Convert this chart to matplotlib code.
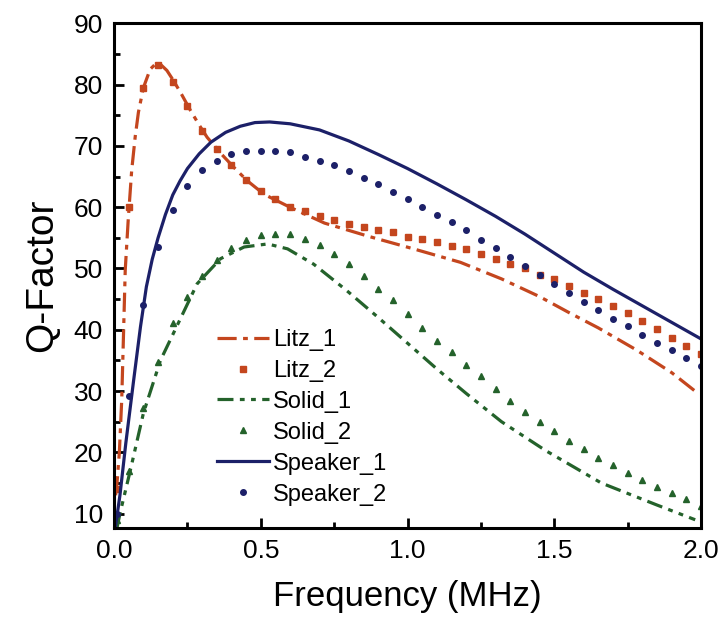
import numpy as np
import matplotlib
matplotlib.use("Agg")
import matplotlib.pyplot as plt
from matplotlib.ticker import MultipleLocator

plt.rcParams['font.family'] = ['Liberation Sans', 'DejaVu Sans']

# ---- data ----
# Litz_1 (dash-dot line)
litz1_f = [0.005, 0.01, 0.018, 0.026, 0.032, 0.038, 0.048, 0.06, 0.072, 0.083,
           0.1, 0.123, 0.14, 0.158, 0.18, 0.203, 0.23, 0.26, 0.29, 0.317,
           0.363, 0.408, 0.454, 0.511, 0.603, 0.717, 0.87, 1.02, 1.18, 1.32,
           1.45, 1.55, 1.65, 1.78, 1.9, 1.99]
litz1_q = [13, 15, 20, 28.5, 39, 49.7, 57.8, 66, 71.5, 75.5,
           79.5, 82.5, 83.3, 83.3, 82.3, 80.6, 78.4, 75.8, 73.4, 71.4,
           68.8, 66.5, 64.3, 62.1, 59.9, 57.4, 55.2, 53.2, 51.0, 48.3,
           45.4, 42.8, 40.3, 36.7, 33.0, 29.6]

# Solid_1 (dash-dot-dot line)
solid1_f = [0.01, 0.02, 0.055, 0.1, 0.158, 0.215, 0.283, 0.363, 0.443, 0.523,
            0.591, 0.68, 0.79, 0.9, 1.0, 1.1, 1.2, 1.32, 1.47, 1.66, 1.85, 1.98]
solid1_q = [7.7, 10, 17, 26.4, 35, 40.7, 47.5, 51.6, 53.5, 54,
            53.2, 50.7, 46.5, 42, 37.8, 33.6, 29.6, 25.0, 20.3, 15.0, 11.4, 9.0]

# Speaker_1 (solid line)
spk1_f = [0.005, 0.02, 0.04, 0.066, 0.09, 0.11, 0.13, 0.15, 0.175, 0.2,
          0.225, 0.25, 0.29, 0.33, 0.38, 0.43, 0.48, 0.53, 0.6, 0.7,
          0.8, 0.9, 1.0, 1.1, 1.2, 1.3, 1.4, 1.5, 1.6, 1.7,
          1.8, 1.9, 2.0]
spk1_q = [8, 13, 21.5, 31.5, 40.5, 47, 51.5, 55, 58.8, 62,
          64.3, 66.3, 68.7, 70.6, 72.2, 73.2, 73.8, 73.9, 73.6, 72.6,
          70.8, 68.6, 66.3, 63.8, 61.2, 58.5, 55.6, 52.5, 49.4, 46.6,
          43.9, 41.2, 38.5]

# measured points, 0.05 MHz steps
pts_f = [0.01] + [round(0.05 * k, 2) for k in range(1, 41)]
litz2_q = [14, 60, 79.5, 83.2, 80.5, 76.5, 72.5, 69.5, 66.8, 64.5,
           62.6, 61.3, 60.1, 59.3, 58.5, 57.9, 57.3, 56.7, 56.3, 55.9,
           55.2, 54.8, 54.3, 53.7, 53.1, 52.4, 51.6, 50.8, 50.0, 49.0,
           48.2, 47.2, 46.0, 45.0, 43.8, 42.8, 41.5, 40.1, 38.7, 37.4, 36.0]
solid2_q = [9, 16.9, 27.2, 34.8, 41.1, 45.4, 48.8, 51.3, 53.3, 54.7,
            55.5, 55.7, 55.6, 54.8, 53.8, 52.4, 50.7, 48.7, 46.7, 44.8,
            42.5, 40.3, 38.2, 36.3, 34.3, 32.4, 30.4, 28.3, 26.6, 25.0,
            23.4, 21.9, 20.5, 19.1, 17.9, 16.6, 15.5, 14.4, 13.4, 12.4, 11.3]
spk2_q = [10, 29.2, 44, 53.5, 59.5, 63.4, 66, 67.6, 68.6, 69.1,
          69.2, 69.1, 69.0, 68.2, 67.5, 66.9, 65.9, 64.8, 63.7, 62.5,
          61.3, 60.1, 58.8, 57.5, 56.2, 54.7, 53.3, 51.8, 50.4, 48.9,
          47.5, 46.0, 44.6, 43.3, 41.8, 40.6, 39.2, 37.9, 36.7, 35.4, 34.1]

orange = '#c4461e'
green = '#24622b'
navy = '#1c2068'

fig = plt.figure(figsize=(7.22, 6.29), dpi=100)
ax = fig.add_axes([0.158, 0.161, 0.813, 0.802])

ax.plot(litz1_f, litz1_q, color=orange, lw=2.3, dashes=(6, 2, 1.5, 2), label='Litz_1')
ax.plot(pts_f, litz2_q, ls='none', marker='s', ms=3.8, color=orange, label='Litz_2')
ax.plot(solid1_f, solid1_q, color=green, lw=2.3, dashes=(5, 2, 1.5, 2, 1.5, 2), label='Solid_1')
ax.plot(pts_f, solid2_q, ls='none', marker='^', ms=4.5, color=green, label='Solid_2')
ax.plot(spk1_f, spk1_q, color=navy, lw=2.3, label='Speaker_1')
ax.plot(pts_f, spk2_q, ls='none', marker='o', ms=4, color=navy, label='Speaker_2')

ax.set_xlim(0, 2.0)
ax.set_ylim(7.7, 90)
ax.xaxis.set_minor_locator(MultipleLocator(0.25))
ax.yaxis.set_minor_locator(MultipleLocator(5))
ax.set_yticks(range(10, 91, 10))
ax.set_xticks([0.0, 0.5, 1.0, 1.5, 2.0])
ax.set_xticklabels(['0.0', '0.5', '1.0', '1.5', '2.0'])

ax.tick_params(which='both', direction='in', top=False, right=False,
               width=2, labelsize=19)
ax.tick_params(which='major', length=7, pad=8)
ax.tick_params(which='minor', length=4.5)
for s in ax.spines.values():
    s.set_linewidth(2.2)

ax.set_xlabel('Frequency (MHz)', fontsize=25, labelpad=12)
ax.set_ylabel('Q-Factor', fontsize=28, labelpad=10)

ax.legend(loc='lower left', bbox_to_anchor=(0.16, 0.025), frameon=False,
          fontsize=17, handlelength=2.2, handletextpad=0.15, labelspacing=0.38,
          borderaxespad=0)

fig.savefig('out.png', dpi=100)
